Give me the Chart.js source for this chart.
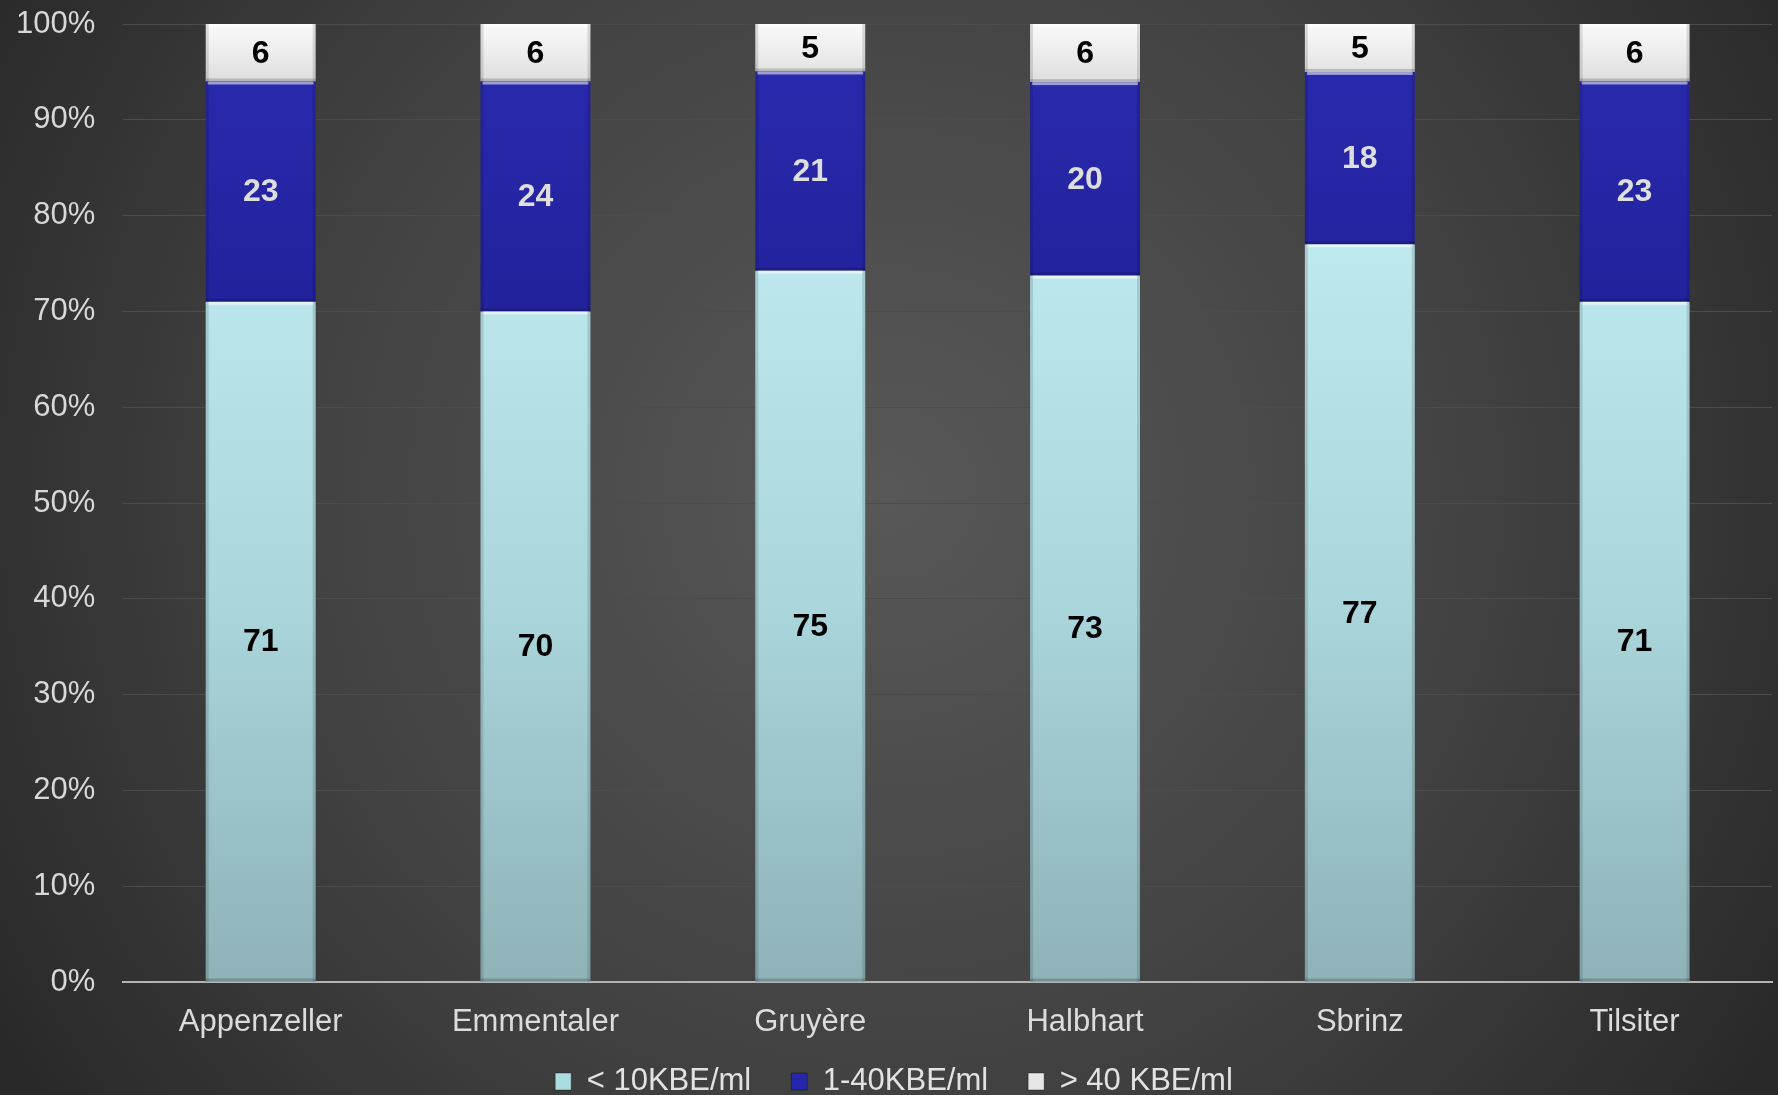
<!DOCTYPE html>
<html>
<head>
<meta charset="utf-8">
<script src="https://cdn.jsdelivr.net/npm/chart.js@4/dist/chart.umd.min.js"></script>
<style>
  html, body { margin: 0; padding: 0; background: #2b2b2b; }
  #wrap { width: 1778px; height: 1095px; position: relative; }
</style>
</head>
<body>
<div id="wrap"><canvas id="chart"></canvas></div>
<script>
const categories = ['Appenzeller', 'Emmentaler', 'Gruyère', 'Halbhart', 'Sbrinz', 'Tilsiter'];
const seriesNames = ['< 10KBE/ml', '1-40KBE/ml', '> 40 KBE/ml'];
const lowValues = [71, 70, 75, 73, 77, 71];
const midValues = [23, 24, 21, 20, 18, 23];
const highValues = [6, 6, 5, 6, 5, 6];
const yTicks = [0, 10, 20, 30, 40, 50, 60, 70, 80, 90, 100];

// 100% gestapelt: jede Säule auf ihre Summe normieren
const totals = categories.map((c, i) => lowValues[i] + midValues[i] + highValues[i]);
const toPercent = arr => arr.map((v, i) => v / totals[i] * 100);

function vGradient(ctx, stops) {
  const area = ctx.chart.chartArea;
  if (!area) return stops[0][1];
  const g = ctx.chart.ctx.createLinearGradient(0, area.top, 0, area.bottom);
  stops.forEach(s => g.addColorStop(s[0], s[1]));
  return g;
}

const fills = [
  ctx => vGradient(ctx, [[0.2, '#bfeaef'], [0.6, '#aad6dc'], [1, '#8eb2b8']]),
  ctx => vGradient(ctx, [[0, '#2a2ab0'], [0.3, '#22229c'], [1, '#1c1c88']]),
  ctx => vGradient(ctx, [[0, '#fafafa'], [0.06, '#dedede'], [1, '#cfcfcf']])
];
const legendFills = ['#a9dde2', '#2626a8', '#e6e6e6'];
const labelColors = ['#000000', '#dedede', '#000000'];
const fontFamily = '"Liberation Sans", Arial, sans-serif';

const background = {
  id: 'background',
  beforeDraw(chart) {
    const { ctx, width, height } = chart;
    const g = ctx.createRadialGradient(width * 0.5, height * 0.45, 0, width * 0.5, height * 0.45, width * 0.62);
    g.addColorStop(0, '#585858');
    g.addColorStop(0.55, '#414141');
    g.addColorStop(1, '#262626');
    ctx.save();
    ctx.fillStyle = g;
    ctx.fillRect(0, 0, width, height);
    ctx.restore();
  }
};

// Legende flacher machen (padding gilt sonst auch vertikal)
const legendHeight = {
  id: 'legendHeight',
  beforeLayout(chart) {
    const lg = chart.legend;
    if (lg && !lg._flat) {
      const fit = lg.fit;
      lg.fit = function () { fit.call(this); this.height = 69; };
      lg._flat = true;
    }
  }
};

// Kanten-Effekt und Werte in den Segmenten
const barLabels = {
  id: 'barLabels',
  afterDatasetsDraw(chart) {
    const ctx = chart.ctx;
    ctx.save();
    chart.data.datasets.forEach((ds, di) => {
      const meta = chart.getDatasetMeta(di);
      meta.data.forEach((bar, i) => {
        const left = bar.x - bar.width / 2;
        const right = bar.x + bar.width / 2;
        const top = Math.min(bar.y, bar.base);
        const bottom = Math.max(bar.y, bar.base);
        // helle Oberkante
        ctx.fillStyle = 'rgba(255,255,255,0.55)';
        ctx.fillRect(left + 2, top, bar.width - 4, 3);
        // dunklere Seiten
        ctx.fillStyle = 'rgba(0,0,0,0.12)';
        ctx.fillRect(left, top, 3, bottom - top);
        ctx.fillRect(right - 3, top, 3, bottom - top);
        ctx.fillStyle = 'rgba(0,0,0,0.18)';
        ctx.fillRect(left, bottom - 3, bar.width, 3);

        ctx.fillStyle = labelColors[di];
        ctx.font = 'bold 32px ' + fontFamily;
        ctx.textAlign = 'center';
        ctx.textBaseline = 'middle';
        ctx.fillText(ds.rawValues[i], bar.x, (top + bottom) / 2 + 1);
      });
    });
    ctx.restore();
  }
};

const rawSeries = [lowValues, midValues, highValues];

new Chart(document.getElementById('chart'), {
  type: 'bar',
  data: {
    labels: categories,
    datasets: rawSeries.map((vals, di) => ({
      label: seriesNames[di],
      data: toPercent(vals),
      rawValues: vals,
      backgroundColor: fills[di],
      borderWidth: 0,
      barPercentage: 0.4,
      categoryPercentage: 1
    }))
  },
  options: {
    responsive: true,
    maintainAspectRatio: false,
    animation: false,
    layout: { padding: { top: 0, right: 6, left: 16, bottom: 0 } },
    plugins: {
      legend: {
        position: 'bottom',
        labels: {
          color: '#e2e2e2',
          font: { size: 31, family: fontFamily },
          boxWidth: 16,
          boxHeight: 17,
          padding: 40,
          generateLabels: chart => seriesNames.map((n, i) => ({
            text: n,
            fillStyle: legendFills[i],
            strokeStyle: 'rgba(0,0,0,0.35)',
            lineWidth: 1,
            fontColor: '#e2e2e2',
            datasetIndex: i
          }))
        }
      },
      tooltip: { enabled: false }
    },
    scales: {
      x: {
        stacked: true,
        grid: { display: false },
        border: { color: '#b4b4b4', width: 2 },
        afterFit: scale => {
          scale.height = 44;
          scale._computeLabelArea = () => undefined; // Beschriftung nicht abschneiden
        },
        ticks: {
          color: '#dcdcdc',
          padding: 14,
          font: { size: 31, family: fontFamily }
        }
      },
      y: {
        stacked: true,
        min: 0,
        max: 100,
        afterBuildTicks: axis => { axis.ticks = yTicks.map(v => ({ value: v })); },
        grid: { color: '#4c4c4c', lineWidth: 1, drawTicks: true, tickLength: 28, tickColor: 'rgba(0,0,0,0)' },
        border: { display: false },
        ticks: {
          color: '#d8d8d8',
          padding: 0,
          font: { size: 31, family: fontFamily, lineHeight: 1.55 },
          callback: v => v + '%'
        }
      }
    }
  },
  plugins: [background, legendHeight, barLabels]
});
</script>
</body>
</html>
